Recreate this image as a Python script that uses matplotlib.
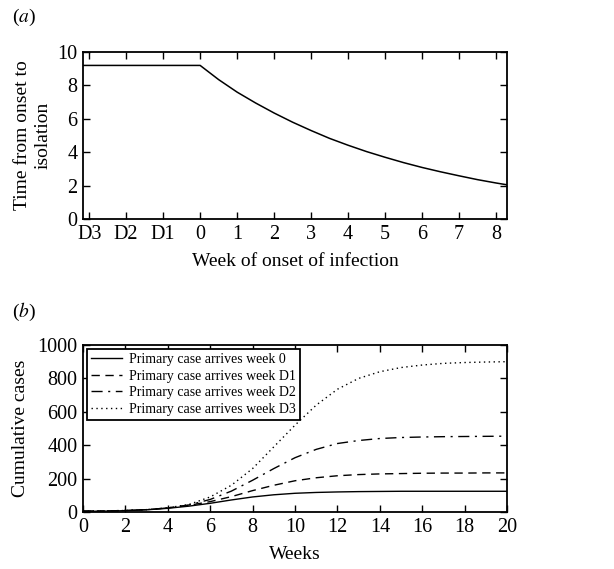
import matplotlib
matplotlib.use("Agg")
import matplotlib.pyplot as plt

plt.rcParams['font.family'] = ['Liberation Serif', 'DejaVu Serif']
plt.rcParams['mathtext.fontset'] = 'stix'

# Panel (a)
a_x = [-3.17, 0, 0.5, 1, 1.5, 2, 2.5, 3, 3.5, 4, 4.5, 5, 5.5, 6, 6.5, 7, 7.5, 8, 8.3]
a_y = [9.2, 9.2, 8.35, 7.6, 6.95, 6.35, 5.8, 5.3, 4.83, 4.42, 4.04, 3.7, 3.38, 3.09, 2.83, 2.59, 2.36, 2.16, 2.05]
a_ticks = [-3, -2, -1, 0, 1, 2, 3, 4, 5, 6, 7, 8]
a_ticklabels = ['D3', 'D2', 'D1', '0', '1', '2', '3', '4', '5', '6', '7', '8']

# Panel (b)
weeks = list(range(0, 21))
week0 = [4, 5, 8, 13, 22, 35, 52, 72, 90, 103, 112, 117, 120, 122, 123, 124, 124, 124, 124, 124, 124]
weekD1 = [5, 6, 9, 14, 24, 40, 62, 92, 128, 160, 187, 205, 217, 224, 228, 230, 232, 233, 233, 234, 234]
weekD2 = [5, 6, 9, 14, 24, 42, 75, 125, 190, 260, 325, 375, 410, 428, 440, 446, 449, 451, 452, 453, 454]
weekD3 = [5, 6, 9, 14, 25, 45, 90, 160, 260, 390, 520, 640, 735, 800, 840, 865, 880, 890, 895, 898, 900]
labels = ['Primary case arrives week 0', 'Primary case arrives week D1',
          'Primary case arrives week D2', 'Primary case arrives week D3']

fig = plt.figure(figsize=(6.14, 5.69), dpi=100)

tfs = 14.5
lfs = 14

def style(ax):
    ax.tick_params(direction='in', top=True, right=True, length=5, width=1,
                   labelsize=tfs)
    ax.tick_params(axis='x', pad=4)
    ax.tick_params(axis='y', pad=4)
    for s in ax.spines.values():
        s.set_linewidth(1.3)

ax1 = fig.add_axes([0.135, 0.615, 0.691, 0.2935])
ax1.plot(a_x, a_y, color='black', lw=1.1)
ax1.set_xlim(-3.17, 8.3)
ax1.set_ylim(0, 10)
ax1.set_xticks(a_ticks)
ax1.set_xticklabels(a_ticklabels)
ax1.set_yticks([0, 2, 4, 6, 8, 10])
ax1.set_xlabel('Week of onset of infection', fontsize=lfs, labelpad=7)
ax1.set_ylabel('Time from onset to\nisolation', fontsize=lfs, linespacing=1.25, labelpad=4)
style(ax1)

ax2 = fig.add_axes([0.135, 0.1002, 0.691, 0.2935])
ax2.plot(weeks, week0, color='black', lw=1.0, ls='-', label=labels[0])
ax2.plot(weeks, weekD1, color='black', lw=1.0, ls=(0, (6, 4)), label=labels[1])
ax2.plot(weeks, weekD2, color='black', lw=1.0, ls=(0, (8, 4, 1.5, 4)), label=labels[2])
ax2.plot(weeks, weekD3, color='black', lw=1.0, ls=(0, (1, 2.5)), label=labels[3])
ax2.set_xlim(0, 20)
ax2.set_ylim(0, 1000)
ax2.set_xticks(range(0, 21, 2))
ax2.set_yticks(range(0, 1001, 200))
ax2.set_xlabel('Weeks', fontsize=lfs, labelpad=7)
ax2.set_ylabel('Cumulative cases', fontsize=lfs, labelpad=6)
style(ax2)
leg = ax2.legend(loc='upper left', fontsize=10, frameon=True, fancybox=False,
                 borderpad=0.3, labelspacing=0.25, handlelength=2.2, handletextpad=0.5,
                 borderaxespad=0.3)
leg.get_frame().set_edgecolor('black')
leg.get_frame().set_linewidth(1.3)
leg.get_frame().set_alpha(1)

fig.text(0.02, 0.962, r'($\mathit{a}$)', fontsize=lfs)
fig.text(0.02, 0.443, r'($\mathit{b}$)', fontsize=lfs)

fig.savefig('out.png', dpi=100)
